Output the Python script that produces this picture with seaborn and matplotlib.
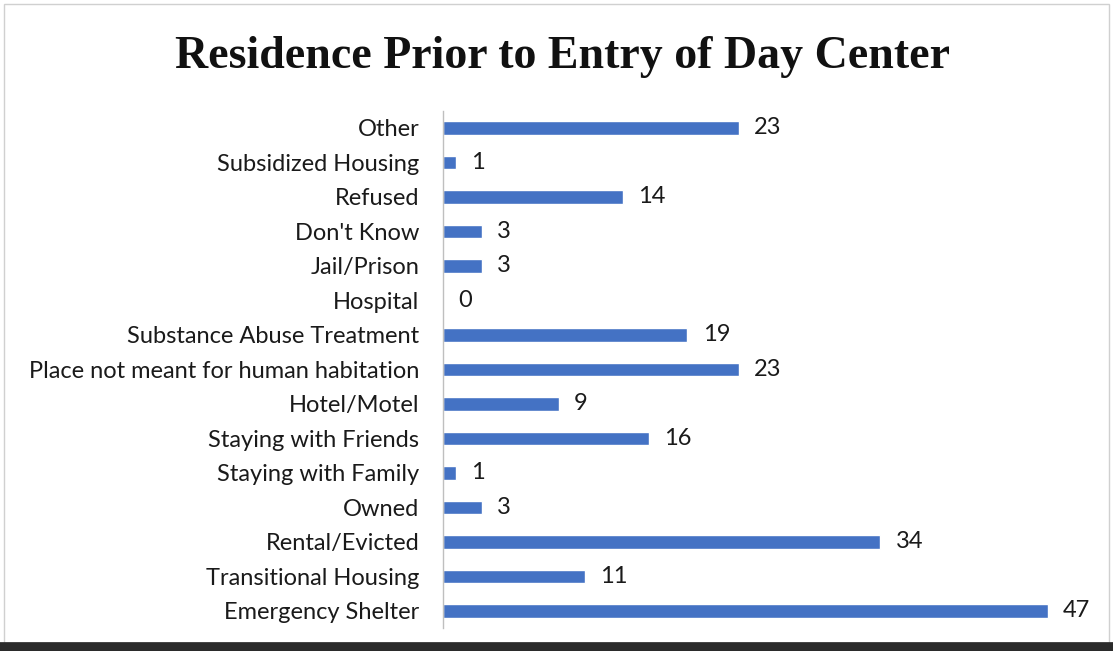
import matplotlib
matplotlib.use("Agg")
import matplotlib.pyplot as plt
import seaborn as sns
import pandas as pd
from matplotlib.lines import Line2D
from matplotlib.patches import Rectangle

# datos del grafico (de arriba hacia abajo)
categories = ["Other", "Subsidized Housing", "Refused", "Don't Know", "Jail/Prison",
              "Hospital", "Substance Abuse Treatment",
              "Place not meant for human habitation", "Hotel/Motel",
              "Staying with Friends", "Staying with Family", "Owned",
              "Rental/Evicted", "Transitional Housing", "Emergency Shelter"]
counts = [23, 1, 14, 3, 3, 0, 19, 23, 9, 16, 1, 3, 34, 11, 47]
title = "Residence Prior to Entry of Day Center"

df = pd.DataFrame({"residence": categories, "count": counts})

sns.set_style("white")
plt.rcParams["font.family"] = ["Lato", "DejaVu Sans"]

fig = plt.figure(figsize=(11.13, 6.51), dpi=100)
ax = fig.add_axes([0.398, 0.035, 0.578, 0.795])

sns.barplot(data=df, x="count", y="residence", order=categories, color="#4472C4",
            width=0.4, saturation=1, ax=ax)

ax.bar_label(ax.containers[0], labels=[str(v) for v in counts], padding=11,
             fontsize=17, color="#1a1a1a")

ax.set_xlim(0, 50)
ax.set_ylim(len(categories) - 0.5, -0.5)
ax.set_xlabel("")
ax.set_ylabel("")
ax.set_xticks([])
ax.tick_params(axis="y", length=0, pad=17, labelsize=17, labelcolor="#1a1a1a")
for s in ["top", "right", "bottom"]:
    ax.spines[s].set_visible(False)
ax.spines["left"].set_color("#bfbfbf")
ax.spines["left"].set_linewidth(1)

fig.text(0.505, 0.913, title, ha="center", va="center", fontsize=33,
         fontweight="bold", family="Liberation Serif", color="#111111")

# marco del grafico
fig.add_artist(Rectangle((0.004, 0.006), 0.992, 0.988, transform=fig.transFigure,
                         fill=False, edgecolor="#d0d0d0", linewidth=1))
fig.add_artist(Line2D([0, 1], [0.006, 0.006], transform=fig.transFigure,
                      color="#2b2b2b", linewidth=7))

fig.savefig("out.png", dpi=100)
